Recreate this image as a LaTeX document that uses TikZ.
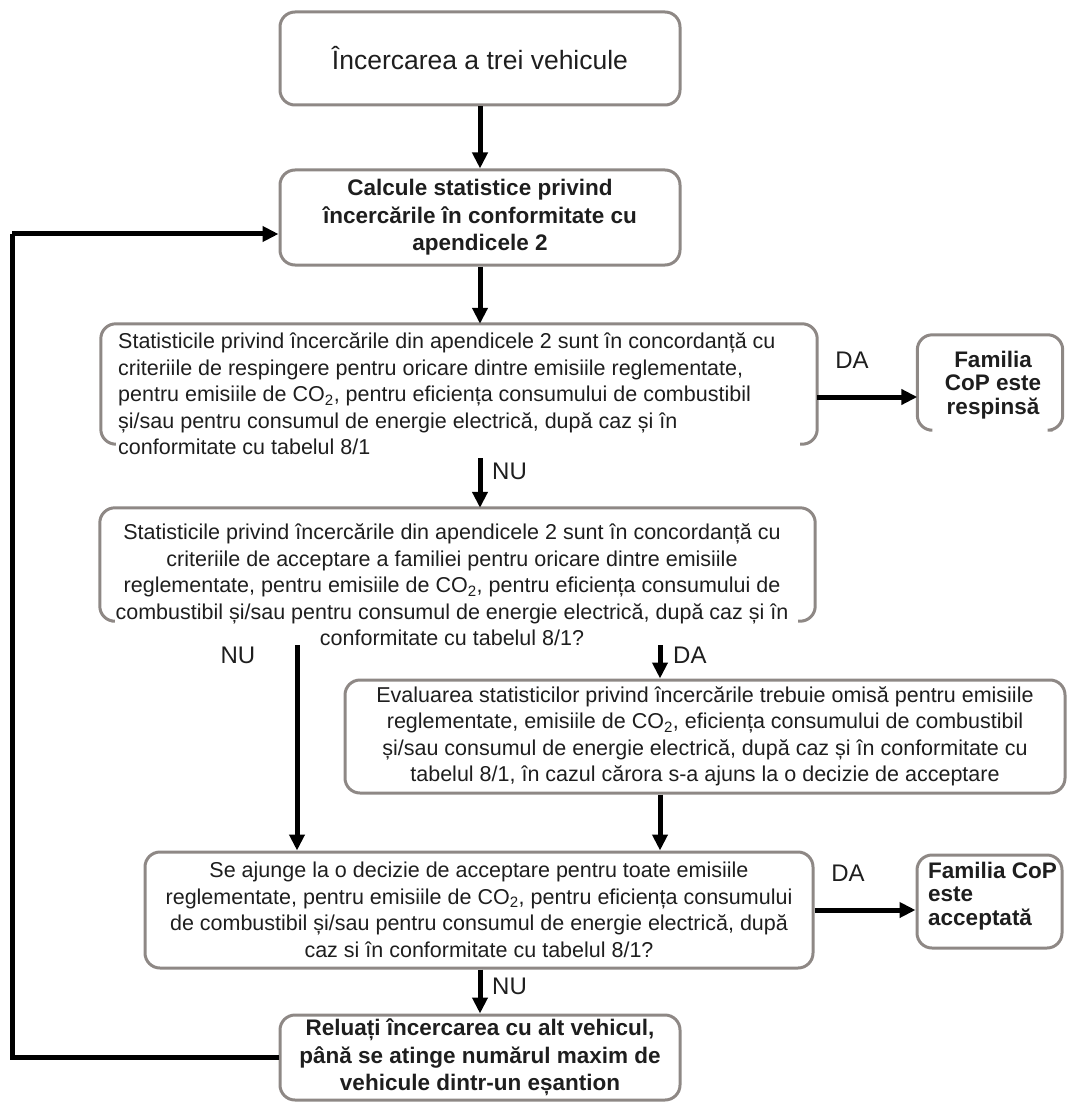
\documentclass[tikz,border=0pt]{standalone}
\usepackage{fontspec}
\setmainfont{Liberation Sans}
\usetikzlibrary{arrows.meta,calc}
\definecolor{boxgray}{HTML}{8E8885}
\definecolor{ink}{HTML}{1E1E1E}
\begin{document}
\begin{tikzpicture}[x=1pt,y=-1pt,
  bx/.style={draw=boxgray, line width=3pt, rounded corners=15pt},
  boxnode/.style={bx, align=center, text=ink, inner sep=0pt},
  regtext/.style={font=\fontsize{21.5}{26.5}\selectfont, text=ink},
  boldtext/.style={font=\bfseries\fontsize{22.5}{27.5}\selectfont, text=ink},
  famtext/.style={font=\bfseries\fontsize{22.5}{23.5}\selectfont, text=ink},
  lbl/.style={font=\fontsize{24}{28}\selectfont, text=ink, inner sep=0pt},
  arr/.style={line width=5pt, draw=black, -{Triangle[length=16pt,width=15pt]}},
  loopline/.style={line width=5pt, draw=black}
]
\useasboundingbox (0,0) rectangle (1067,1107);

% boxes
\node[boxnode, minimum width=400pt, minimum height=93pt,
      font=\fontsize{26.5}{30}\selectfont] (b1) at (480,58.5) {Încercarea a trei vehicule};
\node[boxnode, boldtext, minimum width=400pt, minimum height=95pt] (b2) at (480,217.5)
  {Calcule statistice privind\\încercările în conformitate cu\\apendicele 2};

% box 3 (open bottom)
\node[minimum width=716pt, minimum height=120pt, inner sep=0pt] (b3) at (459,384) {};
\draw[bx] ([xshift=14pt]b3.south west) -- (b3.south west) -- (b3.north west)
   -- (b3.north east) -- (b3.south east) -- ([xshift=-17pt]b3.south east);
\node[regtext, align=left, anchor=west, inner sep=0pt] (t3) at (118,394)
  {Statisticile privind încercările din apendicele 2 sunt în concordanță cu\\
   criteriile de respingere pentru oricare dintre emisiile reglementate,\\
   pentru emisiile de CO\textsubscript{2}, pentru eficiența consumului de combustibil\\
   și/sau pentru consumul de energie electrică, după caz și în\\
   conformitate cu tabelul 8/1};

% Familia respinsa (open bottom)
\node[minimum width=145pt, minimum height=95pt, inner sep=0pt] (fr) at (990,382.5) {};
\draw[bx] ([xshift=12pt]fr.south west) -- (fr.south west) -- (fr.north west)
   -- (fr.north east) -- (fr.south east) -- ([xshift=-10pt]fr.south east);
\node[famtext, align=center, inner sep=0pt] (frt) at (993,385) {Familia\\CoP este\\respinsă};

% box 4 (open bottom)
\node[minimum width=715pt, minimum height=113pt, inner sep=0pt] (b4) at (457.5,564.5) {};
\draw[bx] ([xshift=12pt]b4.south west) -- (b4.south west) -- (b4.north west)
   -- (b4.north east) -- (b4.south east) -- ([xshift=-17pt]b4.south east);
\node[regtext, align=center, inner sep=0pt] (t4) at (452,585)
  {Statisticile privind încercările din apendicele 2 sunt în concordanță cu\\
   criteriile de acceptare a familiei pentru oricare dintre emisiile\\
   reglementate, pentru emisiile de CO\textsubscript{2}, pentru eficiența consumului de\\
   combustibil și/sau pentru consumul de energie electrică, după caz și în\\
   conformitate cu tabelul 8/1?};

% box 5
\node[boxnode, regtext, minimum width=720pt, minimum height=113pt] (b5) at (705,736.5)
  {Evaluarea statisticilor privind încercările trebuie omisă pentru emisiile\\
   reglementate, emisiile de CO\textsubscript{2}, eficiența consumului de combustibil\\
   și/sau consumul de energie electrică, după caz și în conformitate cu\\
   tabelul 8/1, în cazul cărora s-a ajuns la o decizie de acceptare};

% box 7
\node[boxnode, regtext, minimum width=668pt, minimum height=116pt] (b7) at (479,910)
  {Se ajunge la o decizie de acceptare pentru toate emisiile\\
   reglementate, pentru emisiile de CO\textsubscript{2}, pentru eficiența consumului\\
   de combustibil și/sau pentru consumul de energie electrică, după\\
   caz si în conformitate cu tabelul 8/1?};

% Familia acceptata
\node[bx, minimum width=145pt, minimum height=93pt, inner sep=0pt] (fa) at (989.5,901.5) {};
\node[famtext, align=left, anchor=west, inner sep=0pt] (fat) at (928,896) {Familia CoP\\este\\acceptată};

% box 9
\node[boxnode, boldtext, minimum width=400pt, minimum height=85pt] (b9) at (480,1057.5)
  {Reluați încercarea cu alt vehicul,\\până se atinge numărul maxim de\\vehicule dintr-un eșantion};

% coordinates
\coordinate (n3) at (480,458);
\coordinate (n4a) at (297,645);
\coordinate (n4b) at (660,645);
\coordinate (lpb) at (12,1057.5);
\coordinate (lpt) at (12,234);

% connectors
\draw[arr] (b1.south) -- (b2.north);
\draw[arr] (b2.south) -- (b2.south |- b3.north);
\draw[arr] ([yshift=-13pt]b3.east) -- ([yshift=-13pt]b3.east -| fr.west);
\draw[arr] (n3) -- (n3 |- b4.north);
\draw[arr] (n4a) -- (n4a |- b7.north);
\draw[arr] (n4b) -- (n4b |- b5.north);
\draw[arr] (b5.south -| n4b) -- (n4b |- b7.north);
\draw[arr] (b7.east) -- (b7.east -| fa.west);
\draw[arr] (b7.south -| b9.north) -- (b9.north);
\draw[loopline] (b9.west) -- (lpb) -- (lpt);
\draw[arr] (lpt) -- (lpt -| b2.west);

% labels
\node[lbl, anchor=center] (da1) at (852,360) {DA};
\node[lbl, anchor=west] (nu1) at (492,471) {NU};
\node[lbl, anchor=center] (nu2) at (238,655) {NU};
\node[lbl, anchor=west] (da2) at (673,655) {DA};
\node[lbl, anchor=center] (da3) at (848,873) {DA};
\node[lbl, anchor=west] (nu3) at (492,986) {NU};
\end{tikzpicture}
\end{document}
